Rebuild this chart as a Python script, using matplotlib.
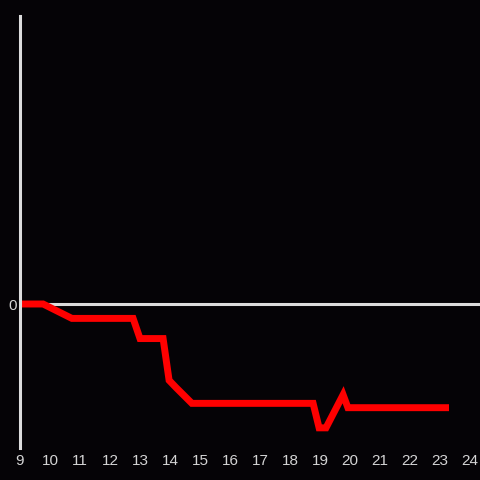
import matplotlib
matplotlib.use('Agg')
import matplotlib.pyplot as plt

# hours of the day and relative values
hours = [9.0, 9.77, 10.73, 12.77, 13.0, 13.77, 13.97, 14.2, 14.73,
         18.77, 18.97, 19.2, 19.77, 19.93, 23.3]
values = [0.0, 0.0, -0.10, -0.10, -0.24, -0.24, -0.53, -0.58, -0.69,
          -0.69, -0.86, -0.86, -0.63, -0.72, -0.72]
xticks = list(range(9, 25))

bg = '#050306'
fg = '#dcdcdc'

fig = plt.figure(figsize=(4.8, 4.8), dpi=100, facecolor=bg)
ax = fig.add_axes([20/480, 32/480, 460/480, 432/480], facecolor=bg)

ax.axhline(0, color=fg, lw=2.2, zorder=1)
ax.plot(hours, values, color='#ff0000', lw=5, solid_joinstyle='miter',
        solid_capstyle='butt', zorder=2)

ax.set_xlim(9, 9 + 460/30)
ax.set_ylim(-1, 2.0)
ax.set_xticks(xticks)
ax.set_xticklabels([str(t) for t in xticks])
ax.set_yticks([0])
ax.set_yticklabels(['0'])
ax.tick_params(length=0, colors='#d4d4d4', labelsize=11)
ax.tick_params(axis='x', pad=4)
ax.tick_params(axis='y', pad=2.5)
for lab in ax.get_xticklabels() + ax.get_yticklabels():
    lab.set_fontfamily('Liberation Sans')

for s in ['top', 'right', 'bottom']:
    ax.spines[s].set_visible(False)
ax.spines['left'].set_color(fg)
ax.spines['left'].set_linewidth(2.2)

fig.savefig('out.png', dpi=100, facecolor=bg)
